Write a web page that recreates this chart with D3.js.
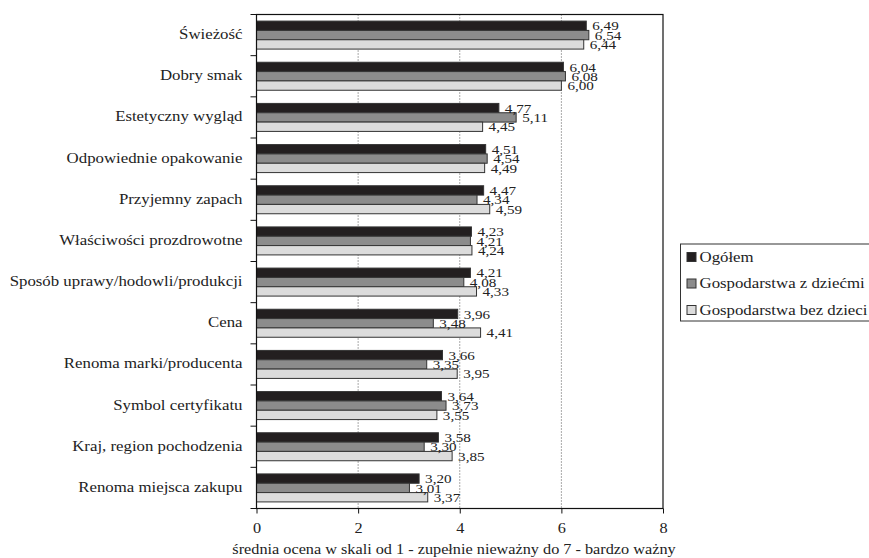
<!DOCTYPE html>
<html><head><meta charset="utf-8">
<script src="https://cdn.jsdelivr.net/npm/d3@7"></script>
</head><body style="margin:0"><svg id="c" width="869" height="558" font-family="Liberation Serif"></svg>
<script>
const categories = ["Świeżość","Dobry smak","Estetyczny wygląd","Odpowiednie opakowanie","Przyjemny zapach","Właściwości prozdrowotne","Sposób uprawy/hodowli/produkcji","Cena","Renoma marki/producenta","Symbol certyfikatu","Kraj, region pochodzenia","Renoma miejsca zakupu"];
const seriesNames = ["Ogółem","Gospodarstwa z dziećmi","Gospodarstwa bez dzieci"];
const ogolem = [6.49,6.04,4.77,4.51,4.47,4.23,4.21,3.96,3.66,3.64,3.58,3.20];
const zDziecmi = [6.54,6.08,5.11,4.54,4.34,4.21,4.08,3.48,3.35,3.73,3.30,3.01];
const bezDzieci = [6.44,6.00,4.45,4.49,4.59,4.24,4.33,4.41,3.95,3.55,3.85,3.37];
const xTicks = [0,2,4,6,8];
const axisTitle = "średnia ocena w skali od 1 - zupełnie nieważny do 7 - bardzo ważny";
const colors = ["#231f20","#8c8c8c","#dcdcdc"];

const seriesValues = [ogolem, zDziecmi, bezDzieci];
const STRETCH = 1.12;
const svg = d3.select("#c");
const m = {left:256.5, top:14.5, width:406.5, height:494};
const g = svg.append("g").attr("transform",`translate(${m.left},${m.top})`);
const x = d3.scaleLinear().domain([0,8]).range([0,m.width]);
const y = d3.scaleBand().domain(categories).range([0,m.height]).paddingInner(0.32).paddingOuter(0.16);
const ys = d3.scaleBand().domain([0,1,2]).range([0,y.bandwidth()]);

function txt(sel, size){ return sel.attr("font-family","Liberation Serif").style("font-family","'Liberation Serif'").attr("font-size",size).attr("fill","#222"); }
function stretch(sel){ sel.each(function(){ const L=this.getComputedTextLength(); d3.select(this).attr("textLength",L*STRETCH).attr("lengthAdjust","spacingAndGlyphs"); }); return sel; }

// gridlines
g.selectAll(".grid").data(xTicks.filter(t=>t>0&&t<8)).enter().append("line")
 .attr("x1",d=>x(d)).attr("x2",d=>x(d)).attr("y1",0).attr("y2",m.height)
 .attr("stroke","#555").attr("stroke-width",1).attr("stroke-dasharray","1,2");

// bars
categories.forEach((c,i)=>{
  seriesValues.forEach((vals,s)=>{
    g.append("rect").attr("x",x(0)).attr("y",y(c)+ys(s)).attr("width",x(vals[i])-x(0)).attr("height",ys.bandwidth())
     .attr("fill",colors[s]).attr("stroke","#333").attr("stroke-width",1);
  });
});
// labels
categories.forEach((c,i)=>{
  seriesValues.forEach((vals,s)=>{
    const t = txt(g.append("text"),13.5).attr("x",x(vals[i])+6).attr("y",y(c)+ys(s)+ys.bandwidth()/2).attr("dy","0.34em")
     .text(vals[i].toFixed(2).replace(".",","));
    stretch(t);
  });
});

// frame
g.append("rect").attr("x",0).attr("y",0).attr("width",m.width).attr("height",m.height).attr("fill","none").attr("stroke","#111").attr("stroke-width",1.2);

// x axis
const xa = g.append("g").attr("transform",`translate(0,${m.height})`)
 .call(d3.axisBottom(x).tickValues(xTicks).tickFormat(d3.format("d")).tickSize(5));
xa.attr("font-family","Liberation Serif").attr("font-size",14);
xa.select(".domain").remove();
xa.selectAll("line").attr("stroke","#111");
stretch(txt(xa.selectAll("text"),14.5).attr("y",24.8).attr("dy",0));

// y axis ticks at band boundaries
const step = y.step();
const bounds = d3.range(categories.length+1).map(k=>k*step);
g.selectAll(".yt").data(bounds).enter().append("line").attr("x1",-6).attr("x2",0).attr("y1",d=>d).attr("y2",d=>d).attr("stroke","#111");
stretch(txt(g.selectAll(".yl").data(categories).enter().append("text"),15)
 .attr("x",-14).attr("y",d=>y(d)+y.bandwidth()/2).attr("dy","0.27em").attr("text-anchor","end")
 .text(d=>d));

// axis title
stretch(txt(svg.append("text"),14.5).attr("x",454).attr("y",554).attr("text-anchor","middle").text(axisTitle));

// legend
const lg = svg.append("g").attr("transform","translate(680.5,244)");
lg.append("rect").attr("width",200).attr("height",77).attr("fill","#fff").attr("stroke","#333").attr("stroke-width",1);
seriesNames.forEach((n,s)=>{
  const yy = 13 + s*26.5;
  lg.append("rect").attr("x",6.5).attr("y",yy-4.5).attr("width",9).attr("height",9).attr("fill",colors[s]).attr("stroke","#333");
  stretch(txt(lg.append("text"),15).attr("x",19).attr("y",yy).attr("dy","0.3em").text(n));
});
</script></body></html>
